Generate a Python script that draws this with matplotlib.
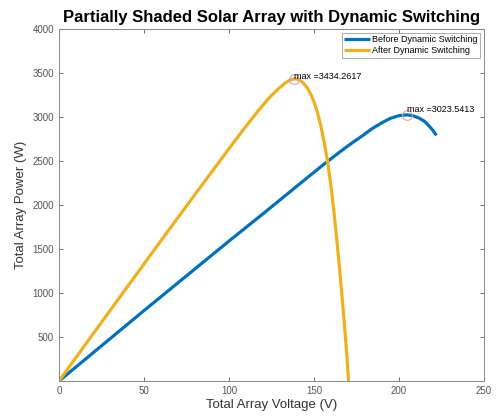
import matplotlib.pyplot as plt

# before dynamic switching (blue)
v_before = [0, 25, 50, 75, 100, 120, 140, 155, 165, 172, 178, 184, 190, 195, 200, 204.5,
            208, 212, 215, 218, 220, 222]
p_before = [0, 400, 800, 1195, 1590, 1900, 2215, 2450, 2600, 2700, 2780, 2865, 2935, 2985,
            3015, 3023.5413, 3015, 2985, 2950, 2890, 2845, 2790]

# after dynamic switching (yellow)
v_after = [0, 20, 40, 60, 80, 100, 110, 118, 124, 129, 133, 136, 138.5, 141, 143.5, 146,
           148, 150, 152, 154, 156, 158, 160, 161.5, 163, 164.5, 166, 167.5, 169, 170.3]
p_after = [0, 535, 1065, 1595, 2120, 2640, 2895, 3090, 3225, 3320, 3385, 3420, 3434.2617,
           3425, 3390, 3330, 3260, 3170, 3050, 2900, 2710, 2490, 2210, 1960, 1680, 1380,
           1060, 730, 370, 0]

max_v = [138.5, 204.5]
max_p = [3434.2617, 3023.5413]

plt.rcParams['font.family'] = ['Liberation Sans', 'DejaVu Sans']

fig = plt.figure(figsize=(4.98, 4.19), dpi=100)
ax = fig.add_axes([0.1185, 0.0907, 0.8535, 0.8403])

ax.plot(v_before, p_before, color='#0072BD', lw=2.3, label='Before Dynamic Switching',
        solid_capstyle='butt', solid_joinstyle='round')
ax.plot(v_after, p_after, color='#EDB120', lw=2.3, label='After Dynamic Switching',
        solid_capstyle='butt', solid_joinstyle='round')

ax.plot(max_v[0], max_p[0], 'o', mfc='none', mec='#c9a0d8', ms=7, mew=0.8)
ax.plot(max_v[1], max_p[1], 'o', mfc='none', mec='#f0a088', ms=7, mew=0.8)
ax.text(max_v[0], max_p[0] + 30, 'max =3434.2617', fontsize=6.5, va='center', ha='left')
ax.text(max_v[1], max_p[1] + 60, 'max =3023.5413', fontsize=6.5, va='center', ha='left')

ax.set_xlim(0, 250)
ax.set_ylim(0, 4000)
ax.set_xticks([0, 50, 100, 150, 200, 250])
ax.set_yticks([500, 1000, 1500, 2000, 2500, 3000, 3500, 4000])
ax.tick_params(direction='in', length=3, width=0.6, labelsize=7, colors='#555555',
               top=True, right=True)
for s in ax.spines.values():
    s.set_color('#888888')
    s.set_linewidth(0.7)

ax.set_xlabel('Total Array Voltage (V)', fontsize=9.5, color='#333333', labelpad=2)
ax.set_ylabel('Total Array Power (W)', fontsize=9.5, color='#333333', labelpad=4)
ax.set_title('Partially Shaded Solar Array with Dynamic Switching', fontsize=12,
             fontweight='bold', pad=5)

leg = ax.legend(loc='upper right', fontsize=6.5, frameon=True, fancybox=False,
                handlelength=2.8, borderpad=0.3, labelspacing=0.2, handletextpad=0.3,
                borderaxespad=0.4)
leg.get_frame().set_edgecolor('#888888')
leg.get_frame().set_linewidth(0.6)

fig.savefig('out.png', dpi=100)
